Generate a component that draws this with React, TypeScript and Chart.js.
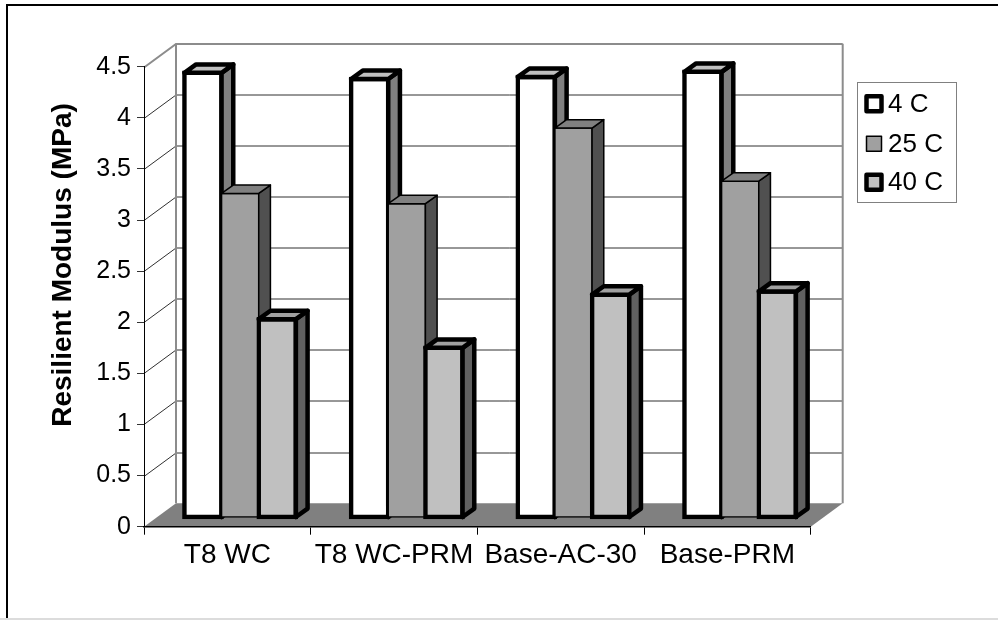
import React, { useEffect, useRef } from 'react';
import { Chart, registerables } from 'chart.js';

Chart.register(...registerables);

// ---------------- data ----------------
const categories = ['T8 WC', 'T8 WC-PRM', 'Base-AC-30', 'Base-PRM'];
const seriesNames = ['4 C', '25 C', '40 C'];
const values4C = [4.35, 4.29, 4.31, 4.36];
const values25C = [3.17, 3.07, 3.81, 3.29];
const values40C = [1.94, 1.66, 2.18, 2.21];
const yTicks = [0, 0.5, 1, 1.5, 2, 2.5, 3, 3.5, 4, 4.5];
const yTickLabels = ['0', '0.5', '1', '1.5', '2', '2.5', '3', '3.5', '4', '4.5'];
const yTitle = 'Resilient Modulus (MPa)';

// ---------------- styles ----------------
const FONT = '"Liberation Sans", Arial, Helvetica, sans-serif';
const frontColors = ['#FFFFFF', '#A0A0A0', '#C0C0C0'];
const topColors = ['#C0C0C0', '#808080', '#A0A0A0'];
const sideColors = ['#808080', '#505050', '#606060'];
const borderWidths = [4.5, 1.5, 4.5];

const WALL_DX = 32;
const WALL_DY = 23.5;
const BAR_SHIFT_X = 12.8;
const BAR_SHIFT_Y = 9.2;
const BAR_DX = 11.7;
const BAR_DY = 8.4;

const seriesValues = [values4C, values25C, values40C];

function drawFaces(ctx: CanvasRenderingContext2D, meta: any, i: number) {
  meta.data.forEach((el: any) => {
    const p = el.getProps(['x', 'y', 'base', 'width'], true);
    const L = p.x - p.width / 2;
    const R = p.x + p.width / 2;
    const T = Math.min(p.y, p.base);
    const B = Math.max(p.y, p.base);
    ctx.lineWidth = borderWidths[i];
    ctx.lineJoin = 'round';
    ctx.strokeStyle = '#000';
    // side face
    ctx.fillStyle = sideColors[i];
    ctx.beginPath();
    ctx.moveTo(R, T);
    ctx.lineTo(R + BAR_DX, T - BAR_DY);
    ctx.lineTo(R + BAR_DX, B - BAR_DY);
    ctx.lineTo(R, B);
    ctx.closePath();
    ctx.fill();
    ctx.stroke();
    // top face
    ctx.fillStyle = topColors[i];
    ctx.beginPath();
    ctx.moveTo(L, T);
    ctx.lineTo(L + BAR_DX, T - BAR_DY);
    ctx.lineTo(R + BAR_DX, T - BAR_DY);
    ctx.lineTo(R, T);
    ctx.closePath();
    ctx.fill();
    ctx.stroke();
  });
}

const threeDPlugin = {
  id: 'threeD',
  beforeDraw(chart: any) {
    const { ctx, chartArea: a, scales } = chart;
    const y = scales.y;
    ctx.save();
    ctx.fillStyle = '#FFFFFF';
    ctx.fillRect(0, 0, chart.width, chart.height);
    // outer frame
    ctx.fillStyle = '#000';
    ctx.fillRect(6, 4, chart.width - 6, 2);
    ctx.fillRect(6, 4, 2, chart.height - 4);
    ctx.fillStyle = '#DCDCDC';
    ctx.fillRect(0, chart.height - 2, chart.width, 2);

    const bl = a.left + WALL_DX;
    const br = a.right + WALL_DX;
    const y0 = y.getPixelForValue(0);
    const yMax = y.getPixelForValue(yTicks[yTicks.length - 1]);
    // floor
    ctx.fillStyle = '#808080';
    ctx.beginPath();
    ctx.moveTo(a.left, y0);
    ctx.lineTo(a.right, y0);
    ctx.lineTo(br, y0 - WALL_DY);
    ctx.lineTo(bl, y0 - WALL_DY);
    ctx.closePath();
    ctx.fill();
    // grid lines on walls
    yTicks.forEach((v, idx) => {
      if (v === 0) return;
      const isTop = idx === yTicks.length - 1;
      const py = Math.round(y.getPixelForValue(v)) + 0.5;
      ctx.strokeStyle = isTop ? '#8C8C8C' : '#303030';
      ctx.lineWidth = isTop ? 2 : 1;
      ctx.beginPath();
      ctx.moveTo(a.left, py);
      ctx.lineTo(bl, py - WALL_DY);
      ctx.lineTo(br, py - WALL_DY);
      ctx.stroke();
    });
    // wall vertical edges
    ctx.strokeStyle = '#8C8C8C';
    ctx.lineWidth = 2;
    ctx.beginPath();
    ctx.moveTo(bl, y0 - WALL_DY);
    ctx.lineTo(bl, yMax - WALL_DY + 0.5);
    ctx.moveTo(br, yMax - WALL_DY + 0.5);
    ctx.lineTo(br, y0 - WALL_DY);
    ctx.stroke();
    ctx.restore();
  },
  beforeDatasetsDraw(chart: any) {
    const ctx = chart.ctx;
    for (let i = 0; i < chart.data.datasets.length; i++) {
      const meta = chart.getDatasetMeta(i);
      ctx.save();
      ctx.translate(BAR_SHIFT_X, -BAR_SHIFT_Y);
      meta.controller.draw();
      drawFaces(ctx, meta, i);
      ctx.restore();
    }
    return false;
  },
  afterDraw(chart: any) {
    const ctx = chart.ctx;
    ctx.save();
    // axis title
    ctx.translate(63, 265);
    ctx.rotate(-Math.PI / 2);
    ctx.font = `bold 28px ${FONT}`;
    ctx.fillStyle = '#000';
    ctx.textAlign = 'center';
    ctx.textBaseline = 'middle';
    ctx.fillText(yTitle, 0, 0);
    ctx.restore();

    // legend
    ctx.save();
    ctx.strokeStyle = '#808080';
    ctx.lineWidth = 1;
    ctx.strokeRect(857.5, 82.5, 99, 120);
    const centers = [103.8, 143.8, 182.2];
    seriesNames.forEach((name, i) => {
      const cy = centers[i];
      const s = 15;
      ctx.fillStyle = frontColors[i];
      ctx.fillRect(874 - s / 2, cy - s / 2, s, s);
      ctx.strokeStyle = '#000';
      ctx.lineWidth = borderWidths[i];
      ctx.lineJoin = 'round';
      ctx.strokeRect(874 - s / 2, cy - s / 2, s, s);
      ctx.fillStyle = '#000';
      ctx.font = `26px ${FONT}`;
      ctx.textAlign = 'left';
      ctx.textBaseline = 'middle';
      ctx.fillText(name, 888, cy + 1);
    });
    ctx.restore();
  },
};

export default function App() {
  const ref = useRef<HTMLCanvasElement>(null);
  useEffect(() => {
    if (!ref.current) return;
    Chart.defaults.font.family = FONT;
    const chart = new Chart(ref.current, {
      type: 'bar',
      data: {
        labels: categories,
        datasets: seriesNames.map((name, i) => ({
          label: name,
          data: seriesValues[i],
          backgroundColor: frontColors[i],
          borderColor: '#000',
          borderWidth: borderWidths[i],
          borderSkipped: false,
          inflateAmount: borderWidths[i] / 2,
          categoryPercentage: 0.669,
          barPercentage: 1,
        })),
      },
      options: {
        responsive: false,
        animation: false,
        devicePixelRatio: 1,
        events: [],
        layout: { padding: { top: 66.7, right: 187.3, left: 0, bottom: 0 } },
        plugins: {
          legend: { display: false },
          tooltip: { enabled: false },
          title: { display: false },
        },
        scales: {
          x: {
            type: 'category',
            offset: true,
            grid: {
              offset: true,
              drawOnChartArea: false,
              drawTicks: true,
              tickLength: 8,
              color: '#000',
              lineWidth: 1,
            },
            border: { display: true, color: '#000', width: 1.5 },
            ticks: {
              color: '#000',
              font: { family: FONT, size: 28 },
              padding: 4,
              maxRotation: 0,
              autoSkip: false,
            },
            afterFit: (s: any) => {
              s.height = 93.3;
            },
          },
          y: {
            type: 'linear',
            min: 0,
            max: 4.5,
            afterBuildTicks: (s: any) => {
              s.ticks = yTicks.map((v) => ({ value: v }));
            },
            ticks: {
              color: '#000',
              font: { family: FONT, size: 25 },
              padding: 6,
              callback: (_v: any, index: number) => yTickLabels[index],
            },
            grid: {
              drawOnChartArea: false,
              drawTicks: true,
              tickLength: 7,
              color: '#333',
              lineWidth: 1,
            },
            border: { display: true, color: '#000', width: 1 },
            afterFit: (s: any) => {
              s.width = 144;
            },
          },
        },
      },
      plugins: [threeDPlugin],
    } as any);
    return () => chart.destroy();
  }, []);
  return (
    <div style={{ position: 'absolute', left: 0, top: 0, width: 998, height: 620 }}>
      <canvas ref={ref} width={998} height={620} style={{ display: 'block', width: 998, height: 620 }} />
    </div>
  );
}
